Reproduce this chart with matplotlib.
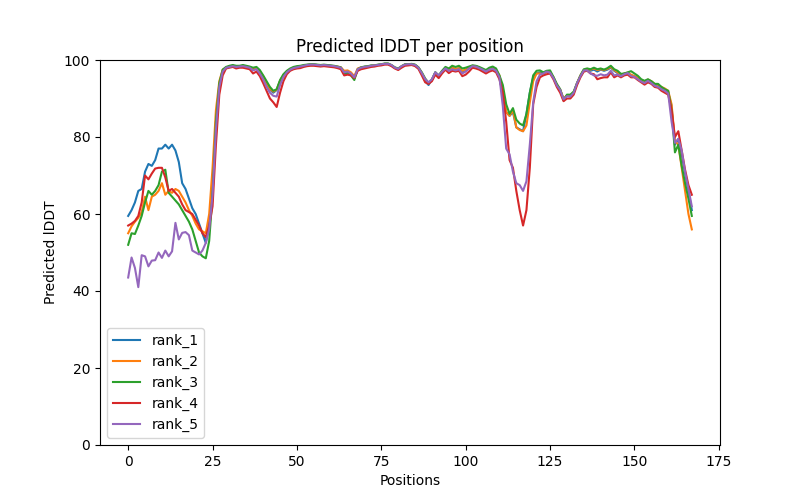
import matplotlib
matplotlib.use("Agg")
import matplotlib.pyplot as plt
import numpy as np

labels = ["rank_1", "rank_2", "rank_3", "rank_4", "rank_5"]

rank_1 = [
    59.5, 61.0, 63.0, 66.0, 66.5, 71.0, 73.0, 72.5, 74.0, 77.0,
    77.0, 78.0, 77.0, 78.0, 76.5, 73.5, 68.0, 66.5, 64.0, 61.5,
    60.0, 57.5, 55.0, 52.5, 57.5, 68.0, 84.0, 93.0, 97.0, 98.0,
    98.3, 98.5, 98.2, 98.3, 98.5, 98.3, 98.0, 97.5, 97.8, 96.8,
    95.5, 93.8, 92.3, 91.5, 92.2, 94.5, 96.0, 97.0, 97.6, 98.0,
    98.2, 98.3, 98.5, 98.7, 98.8, 98.8, 98.7, 98.6, 98.7, 98.6,
    98.5, 98.4, 98.2, 98.0, 96.5, 96.7, 96.3, 95.2, 97.5, 98.0,
    98.2, 98.3, 98.5, 98.5, 98.7, 98.8, 99.0, 99.0, 98.6, 98.0,
    97.6, 98.3, 98.8, 98.8, 98.9, 98.7, 98.0, 96.5, 94.5, 93.5,
    95.0, 96.8, 95.5, 97.0, 97.8, 97.3, 97.8, 97.5, 97.8, 97.0,
    97.3, 98.0, 98.5, 98.4, 98.0, 97.6, 97.0, 97.6, 97.8, 97.3,
    95.5, 91.0, 86.5, 85.5, 86.5, 82.5, 82.0, 81.5, 86.0, 91.5,
    95.5, 96.5, 96.8, 96.3, 97.0, 96.7, 95.5, 93.5, 92.2, 89.8,
    90.8, 90.5, 91.5, 94.0, 95.8, 97.3, 97.5, 97.2, 97.5, 97.0,
    97.5, 97.2, 97.5, 98.0, 97.2, 96.6, 95.8, 96.5, 96.6, 96.0,
    95.8, 95.2, 94.6, 94.2, 94.8, 94.4, 93.6, 93.2, 92.6, 92.2,
    91.5, 88.0, 78.0, 79.5, 75.5, 70.5, 66.0, 61.0,
]

rank_2 = [
    55.0, 56.8, 58.0, 59.0, 60.5, 64.5, 61.0, 64.5, 65.0, 66.0,
    68.0, 65.0, 66.0, 65.5, 66.5, 66.0, 64.5, 63.0, 61.0, 59.5,
    57.5, 56.0, 55.5, 55.0, 60.0, 72.0, 87.0, 94.5, 97.5, 98.0,
    98.3, 98.5, 98.3, 98.3, 98.5, 98.3, 98.1, 97.6, 97.9, 97.0,
    95.8, 94.0, 92.5, 91.8, 92.3, 94.6, 96.1, 97.0, 97.6, 98.0,
    98.2, 98.4, 98.5, 98.7, 98.8, 98.8, 98.7, 98.7, 98.7, 98.6,
    98.5, 98.4, 98.3, 98.1, 97.2, 97.3, 96.8, 95.8, 97.8, 98.1,
    98.2, 98.3, 98.5, 98.6, 98.7, 98.8, 99.0, 99.0, 98.6, 98.0,
    97.7, 98.3, 98.8, 98.8, 98.9, 98.7, 98.0, 96.6, 95.0, 94.0,
    94.8, 96.7, 95.8, 97.0, 97.9, 97.4, 98.0, 97.7, 97.9, 97.2,
    97.5, 98.1, 98.5, 98.4, 98.0, 97.6, 97.1, 97.7, 97.9, 97.4,
    96.0, 92.0, 86.5, 85.5, 87.0, 82.5, 81.8, 81.5, 83.0, 89.0,
    94.5, 96.5, 96.5, 96.2, 97.0, 96.8, 95.5, 93.6, 92.3, 90.0,
    90.8, 90.8, 91.5, 94.0, 96.0, 97.4, 97.7, 97.5, 97.8, 97.4,
    97.6, 97.4, 97.7, 98.2, 97.4, 96.8, 96.0, 96.5, 96.7, 96.2,
    95.8, 95.4, 94.8, 94.4, 94.9, 94.5, 93.8, 93.5, 93.0, 92.6,
    92.0, 88.5, 79.0, 78.0, 72.0, 66.0, 60.0, 56.0,
]

rank_3 = [
    52.0, 55.0, 54.8, 57.0, 59.5, 63.0, 66.0, 65.0, 66.0, 67.5,
    71.0, 71.5, 65.5, 64.5, 63.5, 62.5, 61.0, 59.5, 58.0, 56.0,
    53.0, 50.0, 49.0, 48.5, 53.0, 65.0, 84.0, 94.0, 97.5, 98.2,
    98.5, 98.7, 98.5, 98.5, 98.7, 98.5, 98.3, 98.0, 98.2, 97.4,
    96.0, 94.5, 93.0, 92.0, 92.4, 94.8, 96.3, 97.2, 97.8, 98.2,
    98.4, 98.5, 98.7, 98.8, 98.9, 98.9, 98.8, 98.7, 98.8, 98.7,
    98.6, 98.5, 98.3, 98.1, 96.6, 96.8, 96.0, 94.8, 97.6, 98.1,
    98.3, 98.4, 98.6, 98.6, 98.8, 98.9, 99.1, 99.1, 98.7, 98.1,
    97.8, 98.4, 98.9, 98.9, 99.0, 98.8, 98.1, 96.8, 95.2, 94.0,
    94.8, 96.8, 96.0, 97.2, 98.2, 97.8, 98.5, 98.2, 98.5, 97.8,
    98.0, 98.3, 98.6, 98.5, 98.2, 97.8, 97.4, 98.0, 98.3, 97.8,
    96.0, 93.5, 88.5, 86.0, 87.5, 84.5, 83.5, 83.0, 86.0, 91.5,
    96.0, 97.2, 97.3, 96.8, 97.2, 97.3, 95.6, 93.8, 92.4, 89.5,
    91.0, 91.0, 91.8, 94.0, 96.0, 97.6, 97.8, 97.6, 98.0, 97.6,
    97.8, 97.5, 97.9, 98.5, 97.6, 97.2, 96.4, 96.5, 96.8, 97.1,
    96.5, 95.9, 95.0, 94.6, 95.0, 94.5, 93.8, 93.8, 93.0, 92.4,
    92.0, 87.0, 76.0, 78.0, 72.5, 68.0, 64.0, 59.5,
]

rank_4 = [
    57.0, 57.5, 58.2, 59.5, 63.0, 70.0, 69.0, 70.5, 71.8, 72.0,
    72.0, 69.5, 66.0, 66.5, 65.5, 64.5, 62.5, 61.0, 60.5, 60.0,
    58.5, 57.0, 55.0, 54.0, 57.0, 62.0, 78.0, 91.0, 96.0, 97.8,
    98.0, 98.2, 97.8, 98.0, 98.0, 97.8, 97.6, 96.5, 97.0, 95.8,
    94.0, 92.0, 90.0, 89.0, 87.8, 91.5, 94.5, 96.3, 97.2, 97.6,
    97.8, 97.9, 98.2, 98.4, 98.5, 98.5, 98.4, 98.3, 98.4, 98.3,
    98.2, 98.1, 97.9, 97.6, 96.0, 96.2, 96.0, 95.3, 97.2, 97.6,
    97.8, 98.0, 98.2, 98.3, 98.5, 98.6, 98.8, 98.8, 98.4, 97.8,
    97.4, 98.0, 98.5, 98.6, 98.7, 98.4, 97.7, 96.0, 94.2, 93.8,
    94.5, 96.2, 95.3, 96.5, 97.5, 96.6, 97.2, 97.0, 97.2, 95.8,
    96.2, 97.0, 98.0, 97.8, 97.5, 97.0, 96.5, 97.0, 97.3, 96.8,
    95.0, 91.5, 84.0, 74.0, 72.0, 66.0, 61.0, 57.0, 61.0, 72.0,
    88.5, 93.0, 95.5, 96.0, 96.3, 96.5, 95.0, 93.0, 91.5, 89.3,
    90.0, 90.0, 91.0, 93.5, 95.5, 97.0, 97.2, 96.5, 96.3, 95.0,
    95.3, 95.5, 95.5, 96.8, 95.5, 96.0, 95.5, 96.0, 96.2, 95.5,
    95.5, 94.8, 94.2, 93.6, 94.2, 93.8, 93.0, 92.8, 92.0, 91.5,
    91.0, 87.0, 80.0, 81.5, 76.5, 71.5, 67.5, 65.0,
]

rank_5 = [
    43.5, 48.7, 46.0, 41.0, 49.3, 49.0, 46.4, 47.9, 48.0, 50.0,
    48.6, 50.5, 49.0, 50.3, 57.7, 53.4, 55.1, 55.3, 54.5, 50.5,
    50.0, 49.5, 50.5, 52.5, 56.0, 65.0, 82.0, 93.0, 97.0, 98.0,
    98.2, 98.4, 98.2, 98.3, 98.4, 98.2, 98.0, 97.3, 97.6, 96.5,
    95.0, 93.0, 91.5, 90.7, 90.5, 93.5, 95.6, 96.8, 97.5, 97.9,
    98.1, 98.3, 98.5, 98.7, 98.8, 98.8, 98.7, 98.6, 98.7, 98.6,
    98.5, 98.4, 98.2, 98.0, 96.8, 97.0, 96.5, 95.5, 97.6, 98.0,
    98.2, 98.3, 98.5, 98.6, 98.7, 98.9, 99.0, 99.0, 98.7, 98.0,
    97.7, 98.4, 98.8, 98.9, 98.9, 98.7, 98.0, 96.6, 95.0, 94.2,
    95.0, 96.8, 96.0, 97.0, 97.8, 97.2, 97.6, 97.3, 97.6, 96.5,
    97.0, 97.8, 98.4, 98.3, 97.9, 97.5, 97.0, 97.5, 97.7, 97.2,
    95.5, 88.0, 77.0, 75.5, 71.0, 68.0, 67.5, 66.0, 68.5, 78.0,
    89.0, 94.5, 96.2, 96.5, 97.0, 96.7, 95.3, 93.4, 92.2, 89.8,
    90.6, 90.5, 91.5, 94.0, 95.8, 97.3, 97.3, 96.5, 96.0, 95.9,
    96.3, 96.0, 96.2, 97.2, 96.0, 96.2, 95.8, 96.3, 96.6, 95.8,
    95.6, 95.0, 94.4, 94.0, 94.6, 94.0, 93.3, 93.0, 92.4, 92.0,
    91.3, 84.0, 78.5, 79.5, 76.5, 71.0, 66.5, 62.0,
]

series = [rank_1, rank_2, rank_3, rank_4, rank_5]

fig = plt.figure(figsize=(8, 5), dpi=100)
for vals, lab in zip(series, labels):
    plt.plot(np.arange(len(vals)), vals, label=lab)
plt.title("Predicted lDDT per position")
plt.xlabel("Positions")
plt.ylabel("Predicted lDDT")
plt.ylim(0, 100)
plt.legend(loc="lower left")
plt.savefig("out.png", dpi=100)
